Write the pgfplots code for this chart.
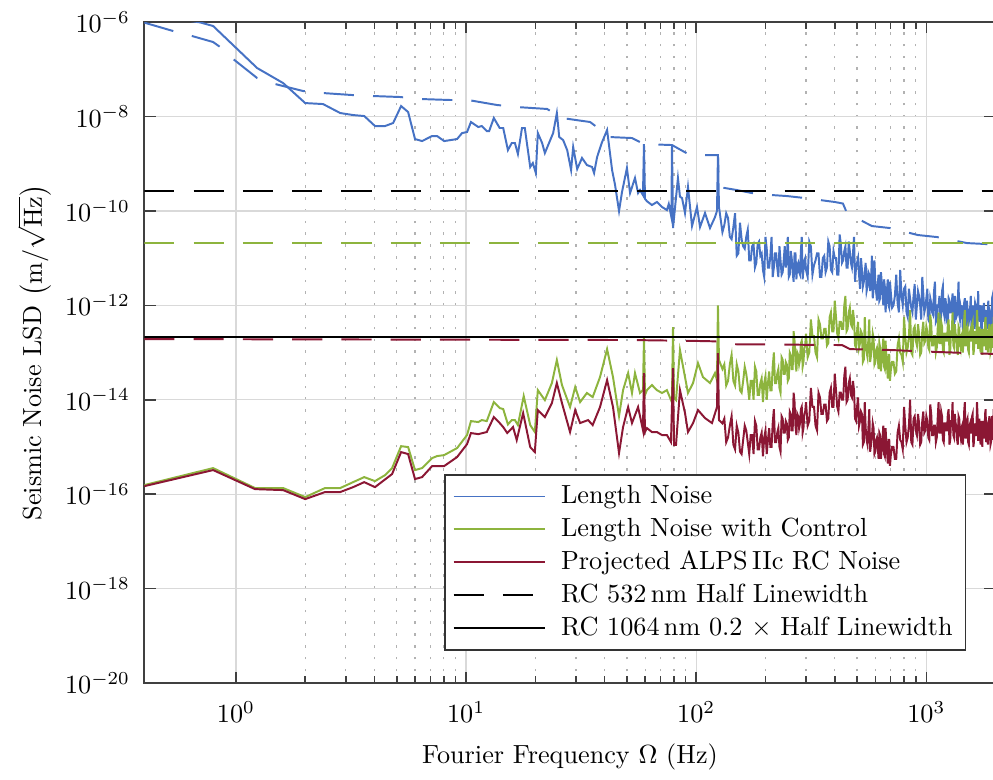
\documentclass[border=0pt]{standalone}
\usepackage{pgfplots}
\pgfplotsset{compat=1.18}
\definecolor{lnblue}{RGB}{70,114,196}
\definecolor{lngreen}{RGB}{141,180,62}
\definecolor{lnred}{RGB}{139,23,52}
\tikzset{mydash/.style={dash pattern=on 11.5pt off 7.3pt}}
\begin{document}
\begin{tikzpicture}
\begin{axis}[
  name=ax, scale only axis, width=324.9pt, height=252.3pt,
  xmode=log, ymode=log, xmin=0.4, xmax=2000, ymin=1e-20, ymax=1e-6,
  xtick={1,10,100,1000},
  ytick={1e-20,1e-18,1e-16,1e-14,1e-12,1e-10,1e-8,1e-6},
  minor y tick style={draw=none},
  xmajorgrids, xminorgrids, ymajorgrids,
  major grid style={gray!30, line width=0.5pt},
  minor grid style={gray!60, line width=0.5pt, dash pattern=on 1pt off 3.5pt},
  axis line style={black!75, line width=0.8pt},
  tick style={black!75, line width=0.6pt},
  xticklabel style={yshift=-3.5pt},
  yticklabel style={xshift=-2pt},
  xlabel={Fourier Frequency $\Omega$ (Hz)},
  ylabel={Seismic Noise LSD $\bigl(\mathrm{m}/\sqrt{\mathrm{Hz}}\bigr)$},
  xlabel shift=1pt,
  ylabel shift=-1.5pt,
  legend style={at={(0.352,0.316)}, anchor=north west, draw=black!80, line width=0.6pt, fill=white, cells={anchor=west}},
  legend image code/.code={\draw[#1] (0pt,0pt) -- (34.7pt,0pt); \path[draw=none] (0pt,0pt) -- (39pt,0pt);},
  every axis plot/.append style={line width=0.75pt},
]
% Length Noise
\addplot[lnblue] coordinates {
(0.4,1.5e-6)(0.699,9.8e-7)(0.796,8.23e-7)(1.236,1.06e-7)(1.603,5.10e-8)(2.0,1.92e-8)(2.39,1.83e-8)(2.84,1.18e-8)(3.23,1.07e-8)(3.61,1.02e-8)(4.02,6.27e-9)(4.45,6.27e-9)(4.82,7.26e-9)(5.22,1.66e-8)(5.60,1.24e-8)(6.00,3.32e-9)(6.44,3.01e-9)(7.12,3.85e-9)(7.48,3.85e-9)(8.03,3.01e-9)(9.14,3.32e-9)(9.61,4.45e-9)(10.1,4.68e-9)(10.5,7.62e-9)(11.3,5.97e-9)(11.7,6.27e-9)(12.3,4.91e-9)(12.6,4.91e-9)(13.2,9.26e-9)(14.0,5.69e-9)(14.5,5.69e-9)(15.2,1.94e-9)(15.8,2.74e-9)(16.3,2.74e-9)(16.8,1.60e-9)(17.5,5.69e-9)(18.0,5.69e-9)(19.0,8.49e-10)(19.5,1.03e-9)(20.1,6.33e-10)(20.5,4.45e-9)(21.4,2.74e-9)(22.0,1.68e-9)(23.9,4.45e-9)(24.8,1.18e-8)(25.4,3.66e-9)(26.4,3.17e-9)(27.5,1.94e-9)(28.6,7.33e-10)(29.2,2.25e-9)(30.4,7.70e-10)(31.9,1.32e-9)(33.5,9.35e-10)(35.3,8.49e-10)(36.0,6.33e-10)(37.1,1.38e-9)(39.0,2.87e-9)(41.0,5.16e-9)(43.1,7.33e-10)(44.4,3.53e-10)(46.2,9.92e-11)(47.6,2.51e-10)(50.0,8.08e-10)(51.6,2.39e-10)(54.2,4.96e-10)(55.9,2.39e-10)(57.0,2.76e-10)(58.7,2.16e-10)(59.3,2.60e-9)(59.9,1.8e-10)(61.1,1.60e-10)(64.2,1.33e-10)(67.5,1.54e-10)(71.0,1.21e-10)(74.6,1.04e-10)(76.0,1.4e-10)(78.0,7.4e-11)(78.5,2.5e-9)(79.3,4.33e-11)(83.3,4.96e-10)(85.0,2.0e-10)(86.8,1.87e-10)(89.4,9.0e-11)(92.1,3.20e-10)(95.9,4.77e-11)(100.8,1.21e-10)(103.9,4.55e-11)(109.2,9.0e-11)(114.8,4.33e-11)(120.7,7.4e-11)(123.1,1.0e-10)(124.3,1.52e-9)(125.6,1.2e-10)
(130,3.55e-11)(132.5,5.01e-11)(135,8.91e-11)(137.5,7.08e-11)(140,2.82e-11)(142.5,2.51e-11)(145,4.47e-11)(147.5,8.91e-11)(150,1.12e-11)(152.5,1.26e-11)(155,5.62e-11)(157.5,2.51e-11)(160,1.78e-11)(162.5,1.58e-11)(165,2.82e-11)(167.5,3.98e-11)(170,8.91e-12)(172.5,8.91e-12)(175,1.78e-11)(177.5,2.0e-11)(180,6.31e-12)(182.5,7.94e-12)(185,2.0e-11)(187.5,2.24e-11)(190,1.12e-11)(192.5,1.26e-11)(195,5.62e-12)(197.5,3.98e-12)(200,2.82e-11)(202.5,1.58e-11)(205,6.31e-12)(207.5,6.31e-12)(210,1.12e-11)(212.5,2.82e-11)(215,3.98e-12)(217.5,6.31e-12)(220,1.26e-11)(222.5,1.26e-11)(225,6.31e-12)(227.5,3.98e-12)(230,1.78e-11)(232.5,8.91e-12)(235,4.47e-12)(237.5,5.01e-12)(240,8.91e-12)(242.5,1.78e-11)(245,6.31e-12)(247.5,8.91e-12)(250,2.82e-11)(252.5,3.98e-12)(255,4.47e-12)(257.5,1.41e-11)(260,1.0e-11)(262.5,5.01e-12)(265,3.16e-12)(267.5,1.26e-11)(270,1.26e-11)(272.5,3.55e-12)(275,7.08e-12)(277.5,7.94e-12)(280,5.01e-12)(282.5,4.47e-12)(285,1.41e-11)(287.5,2.82e-11)(290,3.55e-12)(292.5,5.62e-12)(295,8.91e-12)(297.5,1.0e-11)(300,5.62e-12)(305,3.98e-12)
(310,2.24e-11)(315,1.78e-11)(320,4.47e-12)(325,7.08e-12)(330,8.91e-12)(335,1.26e-11)(340,1.26e-11)(345,3.98e-12)(350,3.98e-12)(355,1.0e-11)(360,1.12e-11)(365,5.01e-12)(370,6.31e-12)(375,2.24e-11)(380,1.78e-11)(385,5.62e-12)(390,5.01e-12)(395,1.41e-11)(400,1.0e-11)(405,1.0e-11)(410,4.47e-12)(415,4.47e-12)(420,3.16e-11)(425,2.0e-11)(430,7.94e-12)(435,8.91e-12)(440,1.41e-11)(445,1.78e-11)(450,6.31e-12)(455,6.31e-12)(460,2.24e-11)(465,1.41e-11)(470,7.94e-12)(475,6.31e-12)(480,1.26e-11)(485,2.82e-11)(490,3.16e-12)(495,6.31e-12)(500,7.94e-12)(505,1.0e-11)(510,4.47e-12)(515,2.24e-12)(520,1.0e-11)(525,5.62e-12)(530,2.51e-12)(535,3.16e-12)(540,5.01e-12)(545,7.94e-12)(550,2.0e-12)(555,2.51e-12)(560,5.01e-12)(565,4.47e-12)(570,2.0e-12)(575,3.16e-12)(580,1.12e-11)(585,1.41e-12)(590,2.24e-12)(595,8.91e-12)(600,3.16e-12)(605,2.0e-12)(610,1.26e-12)(615,2.82e-12)(620,4.47e-12)(625,1.26e-12)(630,1.41e-12)(635,5.01e-12)(640,3.16e-12)(645,2.0e-12)(650,1.0e-12)(655,3.55e-12)(660,2.51e-12)(665,7.08e-13)(670,1.41e-12)(675,2.24e-12)(680,3.55e-12)(685,1.0e-12)(690,8.91e-13)(695,3.16e-12)(700,2.0e-12)(710,8.91e-13)
(720,1.0e-12)(730,1.58e-12)(740,4.47e-12)(750,1.12e-12)(760,7.08e-13)(770,5.62e-12)(780,1.58e-12)(790,1.0e-12)(800,2.24e-12)(810,2.51e-12)(820,7.08e-13)(830,5.62e-13)(840,2.24e-12)(850,1.41e-12)(860,8.91e-13)(870,7.08e-13)(880,1.58e-12)(890,2.82e-12)(900,5.01e-13)(910,1.0e-12)(920,2.0e-12)(930,1.58e-12)(940,1.0e-12)(950,5.01e-13)(960,3.98e-12)(970,1.78e-12)(980,7.08e-13)(990,8.91e-13)(1000,1.41e-12)(1010,2.24e-12)(1020,5.01e-13)(1030,4.47e-13)(1040,1.41e-12)(1050,1.12e-12)(1060,7.08e-13)(1070,6.31e-13)(1080,2.0e-12)(1090,3.16e-12)(1100,4.47e-13)(1110,5.01e-13)(1120,1.0e-12)(1130,1.0e-12)(1140,1.58e-12)(1150,4.47e-13)(1160,6.31e-13)(1170,2.0e-12)(1180,2.51e-12)(1190,7.08e-13)(1200,5.62e-13)(1210,1.41e-12)(1220,1.0e-12)(1230,4.47e-13)(1240,3.98e-13)(1250,1.41e-12)(1260,1.26e-12)(1270,7.08e-13)(1280,7.08e-13)(1290,1.12e-12)(1300,1.78e-12)(1310,3.55e-13)(1320,4.47e-13)(1330,1.58e-12)(1340,1.12e-12)(1350,5.62e-13)(1360,6.31e-13)(1370,1.26e-12)(1380,3.16e-12)(1390,6.31e-13)(1400,5.01e-13)(1410,8.91e-13)(1420,7.08e-13)(1430,1.0e-12)(1440,3.16e-13)(1450,3.16e-13)(1460,1.12e-12)(1470,1.41e-12)(1480,4.47e-13)(1490,3.55e-13)(1500,1.26e-12)(1510,7.94e-13)(1520,3.55e-13)(1530,4.47e-13)(1540,7.94e-13)(1550,8.91e-13)(1560,1.58e-12)(1570,2.82e-13)(1580,3.98e-13)(1590,1.0e-12)(1600,7.08e-13)(1610,5.01e-13)(1620,3.16e-13)(1630,1.12e-12)(1640,1.0e-12)(1650,3.55e-13)(1660,5.01e-13)(1670,7.08e-13)(1680,2.0e-12)(1690,5.62e-13)(1700,4.47e-13)(1710,7.94e-13)(1720,1.0e-12)(1730,3.55e-13)(1740,2.51e-13)(1750,1.0e-12)(1760,7.08e-13)(1770,4.47e-13)(1780,1.12e-12)(1790,6.31e-13)(1800,3.55e-13)(1810,2.82e-13)(1820,7.94e-13)(1830,4.47e-13)(1840,3.16e-13)(1850,8.91e-13)(1860,1.26e-12)(1870,3.98e-13)(1880,4.47e-13)(1890,7.08e-13)(1900,6.31e-13)(1910,2.51e-13)(1920,2.82e-13)(1930,1.41e-12)(1940,1.58e-12)(1950,4.47e-13)(1960,3.98e-13)(1970,7.94e-13)(1980,8.91e-13)(1990,3.55e-13)(2000,5.01e-13)
};
\addlegendentry{Length Noise}
% Length Noise with Control
\addplot[lngreen] coordinates {
(0.4,1.56e-16)(0.796,3.57e-16)(1.21,1.35e-16)(1.603,1.35e-16)(2.0,8.68e-17)(2.44,1.35e-16)(2.84,1.35e-16)(3.23,1.80e-16)(3.61,2.30e-16)(4.02,1.89e-16)(4.45,2.54e-16)(4.77,3.57e-16)(5.22,1.04e-15)(5.60,9.95e-16)(6.00,3.24e-16)(6.44,3.57e-16)(7.12,5.82e-16)(7.48,6.41e-16)(8.03,6.73e-16)(9.14,9.47e-16)(10.1,1.79e-15)(10.5,3.53e-15)(11.3,3.37e-15)(11.7,3.71e-15)(12.3,3.53e-15)(13.2,8.93e-15)(14.0,6.67e-15)(14.5,6.35e-15)(15.2,3.0e-15)(15.8,3.71e-15)(16.3,3.71e-15)(16.8,2.91e-15)(17.8,1.2e-14)(19.0,2.91e-15)(19.9,2.07e-15)(20.5,1.60e-14)(22.0,9.8e-15)(23.6,2.26e-14)(24.8,6.93e-14)(26.1,2.05e-14)(28.3,7.0e-15)(29.8,1.86e-14)(31.3,8.93e-15)(33.5,1.39e-14)(35.5,1.14e-14)(38.2,3.02e-14)(41.0,1.18e-13)(43.5,3.02e-14)(46.2,4.5e-15)(48.1,1.60e-14)(50.6,3.67e-14)(52.6,1.39e-14)(54.2,3.67e-14)(57.0,1.39e-14)(58.7,1.6e-14)(59.3,2.03e-13)(59.9,1.25e-14)(61.1,1.6e-14)(64.2,2.05e-14)(67.5,1.6e-14)(71.0,1.39e-14)(74.6,1.6e-14)(77.7,9.84e-15)(78.5,1.14e-14)(79.3,3.46e-13)(80.1,1.09e-14)(81.7,9.84e-15)(85.0,1.13e-13)(89.4,3.02e-14)(92.1,1.39e-14)(96.9,2.26e-14)(101.8,5.98e-14)(107.0,3.02e-14)(114.8,2.26e-14)(120.7,3.67e-14)(123.1,2.6e-14)(124.3,1.0e-12)(125.6,6.93e-14)
(130,4.47e-14)(132.5,5.62e-14)(135,2.0e-14)(137.5,2.51e-14)(140,5.62e-14)(142.5,8.91e-14)(145,2.51e-14)(147.5,2.0e-14)(150,5.62e-14)(152.5,3.98e-14)(155,1.58e-14)(157.5,1.41e-14)(160,2.51e-14)(162.5,5.01e-14)(165,3.55e-14)(167.5,2.0e-14)(170,1.0e-14)(172.5,2.51e-14)(175,2.51e-14)(177.5,1.0e-14)(180,5.01e-14)(182.5,3.98e-14)(185,1.26e-14)(187.5,1.26e-14)(190,2.24e-14)(192.5,2.82e-14)(195,8.91e-15)(197.5,2.24e-14)(200,3.16e-14)(202.5,1.0e-14)(205,2.24e-14)(207.5,3.98e-14)(210,1.58e-14)(212.5,1.58e-14)(215,5.01e-14)(217.5,1.0e-13)(220,2.24e-14)(222.5,2.24e-14)(225,3.55e-14)(227.5,4.47e-14)(230,1.78e-14)(232.5,1.41e-14)(235,7.94e-14)(237.5,7.08e-14)(240,3.55e-14)(242.5,3.55e-14)(245,6.31e-14)(247.5,5.62e-14)(250,2.51e-14)(252.5,2.82e-14)(255,1.0e-13)(257.5,8.91e-14)(260,4.47e-14)(262.5,4.47e-14)(265,2.82e-13)(267.5,1.78e-13)(270,6.31e-14)(272.5,3.98e-14)(275,1.0e-13)(277.5,8.91e-14)(280,5.62e-14)(282.5,7.08e-14)(285,1.58e-13)(287.5,1.78e-13)(290,5.01e-14)(292.5,6.31e-14)(295,1.26e-13)(297.5,1.41e-13)(300,2.51e-13)(305,7.94e-14)
(310,1.0e-13)(315,5.01e-13)(320,2.24e-13)(325,2.24e-13)(330,1.0e-13)(335,7.94e-14)(340,5.01e-13)(345,3.98e-13)(350,2.0e-13)(355,2.0e-13)(360,3.16e-13)(365,3.16e-13)(370,1.41e-13)(375,1.58e-13)(380,5.62e-13)(385,7.08e-13)(390,2.82e-13)(395,2.82e-13)(400,1.26e-12)(405,5.62e-13)(410,2.51e-13)(415,2.0e-13)(420,4.47e-13)(425,4.47e-13)(430,3.16e-13)(435,3.16e-13)(440,1.0e-12)(445,1.58e-12)(450,2.82e-13)(455,3.16e-13)(460,7.08e-13)(465,8.91e-13)(470,3.98e-13)(475,3.55e-13)(480,7.94e-13)(485,5.01e-13)(490,1.41e-13)(495,1.26e-13)(500,2.82e-13)(505,4.47e-13)(510,1.26e-13)(515,1.58e-13)(520,2.82e-13)(525,2.51e-13)(530,6.31e-14)(535,7.08e-14)(540,5.62e-13)(545,1.58e-13)(550,1.0e-13)(555,7.94e-14)(560,2.0e-13)(565,5.01e-13)(570,6.31e-14)(575,8.91e-14)(580,1.26e-13)(585,2.51e-13)(590,2.0e-13)(595,5.62e-14)(600,6.31e-14)(605,1.12e-13)(610,1.26e-13)(615,7.94e-14)(620,4.47e-14)(625,1.58e-13)(630,1.26e-13)(635,3.98e-14)(640,7.08e-14)(645,1.12e-13)(650,2.0e-13)(655,5.01e-14)(660,4.47e-14)(665,1.78e-13)(670,7.94e-14)(675,5.01e-14)(680,2.82e-14)(685,8.91e-14)(690,8.91e-14)(695,2.51e-14)(700,3.98e-14)(710,6.31e-14)
(720,6.31e-14)(730,3.55e-14)(740,3.98e-14)(750,1.41e-13)(760,2.0e-13)(770,1.0e-13)(780,8.91e-14)(790,6.31e-14)(800,5.62e-13)(810,2.24e-13)(820,1.0e-13)(830,1.26e-13)(840,2.24e-13)(850,7.94e-13)(860,1.0e-13)(870,8.91e-14)(880,3.16e-13)(890,3.55e-13)(900,1.78e-13)(910,1.41e-13)(920,3.98e-13)(930,2.51e-13)(940,8.91e-14)(950,1.0e-13)(960,2.82e-13)(970,4.47e-13)(980,1.58e-13)(990,1.78e-13)(1000,3.55e-13)(1010,2.82e-13)(1020,1.26e-13)(1030,1.12e-13)(1040,6.31e-13)(1050,3.98e-13)(1060,1.41e-13)(1070,1.41e-13)(1080,2.24e-13)(1090,2.24e-13)(1100,1.0e-13)(1110,1.26e-13)(1120,3.16e-13)(1130,7.08e-13)(1140,1.58e-13)(1150,1.58e-13)(1160,4.47e-13)(1170,3.55e-13)(1180,1.12e-13)(1190,1.0e-13)(1200,2.51e-13)(1210,2.51e-13)(1220,1.78e-13)(1230,1.78e-13)(1240,3.98e-13)(1250,5.01e-13)(1260,8.91e-14)(1270,1.12e-13)(1280,2.82e-13)(1290,2.82e-13)(1300,7.08e-13)(1310,1.41e-13)(1320,1.26e-13)(1330,3.98e-13)(1340,2.51e-13)(1350,2.24e-13)(1360,1.12e-13)(1370,8.91e-14)(1380,3.55e-13)(1390,3.16e-13)(1400,1.58e-13)(1410,1.26e-13)(1420,2.24e-13)(1430,2.51e-13)(1440,1.0e-13)(1450,1.58e-13)(1460,5.01e-13)(1470,7.94e-13)(1480,1.41e-13)(1490,1.41e-13)(1500,3.16e-13)(1510,3.55e-13)(1520,1.12e-13)(1530,1.0e-13)(1540,2.51e-13)(1550,2.82e-13)(1560,1.78e-13)(1570,1.78e-13)(1580,3.98e-13)(1590,4.47e-13)(1600,8.91e-14)(1610,1.12e-13)(1620,2.82e-13)(1630,2.24e-13)(1640,1.58e-13)(1650,1.58e-13)(1660,7.94e-13)(1670,3.98e-13)(1680,1.26e-13)(1690,1.26e-13)(1700,3.55e-13)(1710,2.0e-13)(1720,1.0e-13)(1730,3.16e-13)(1740,2.24e-13)(1750,8.91e-14)(1760,3.16e-13)(1770,2.51e-13)(1780,1.41e-13)(1790,1.41e-13)(1800,4.47e-13)(1810,5.62e-13)(1820,1.12e-13)(1830,2.82e-13)(1840,2.51e-13)(1850,1.0e-13)(1860,1.78e-13)(1870,3.16e-13)(1880,3.98e-13)(1890,2.0e-13)(1900,1.0e-13)(1910,1.12e-13)(1920,2.82e-13)(1930,3.98e-13)(1940,1.26e-13)(1950,1.58e-13)(1960,5.62e-13)(1970,3.55e-13)(1980,1.58e-13)(1990,1.26e-13)(2000,3.16e-13)
};
\addlegendentry{Length Noise with Control}
% Projected ALPS IIc RC Noise
\addplot[lnred] coordinates {
(0.4,1.48e-16)(0.796,3.24e-16)(1.21,1.28e-16)(1.603,1.22e-16)(2.0,7.87e-17)(2.44,1.11e-16)(2.84,1.11e-16)(3.23,1.41e-16)(3.61,1.80e-16)(4.02,1.41e-16)(4.77,2.67e-16)(5.22,7.79e-16)(5.60,7.07e-16)(6.00,2.09e-16)(6.44,2.30e-16)(7.12,3.94e-16)(8.03,3.94e-16)(9.14,6.11e-16)(10.1,1.15e-15)(10.5,1.97e-15)(11.3,1.87e-15)(12.3,2.07e-15)(13.2,4.30e-15)(14.0,3.21e-15)(14.5,2.64e-15)(15.1,1.97e-15)(16.0,2.64e-15)(16.6,1.40e-15)(17.7,5.22e-15)(19.0,9.95e-16)(19.9,7.79e-16)(20.5,6.05e-15)(22.0,4.30e-15)(23.6,8.51e-15)(24.8,2.26e-14)(26.1,8.51e-15)(28.3,2.07e-15)(29.8,6.05e-15)(31.3,3.21e-15)(33.9,3.71e-15)(35.5,2.91e-15)(38.2,7.0e-15)(41.0,2.61e-14)(43.5,7.0e-15)(46.2,7.42e-16)(48.1,2.64e-15)(50.6,7.0e-15)(52.6,3.21e-15)(55.9,7.0e-15)(58.7,2.28e-15)(59.3,3.67e-14)(59.9,2.07e-15)(61.1,2.51e-15)(64.2,2.07e-15)(67.5,2.07e-15)(71.0,1.79e-15)(74.6,1.79e-15)(77.7,1.27e-15)(79.3,4.69e-14)(80.1,1.10e-15)(81.7,1.10e-15)(85.0,1.60e-14)(89.4,5.22e-15)(92.1,2.07e-15)(96.9,3.21e-15)(101.8,6.05e-15)(109.2,4.09e-15)(117.1,3.21e-15)(123.1,7.0e-15)(124.3,9.74e-14)(125.6,3.7e-15)
(130,3.16e-15)(132.5,3.98e-15)(135,1.26e-15)(137.5,1.58e-15)(140,2.82e-15)(142.5,4.47e-15)(145,1.12e-15)(147.5,8.91e-16)(150,2.82e-15)(152.5,2.0e-15)(155,7.94e-16)(157.5,7.08e-16)(160,1.41e-15)(162.5,2.82e-15)(165,2.24e-15)(167.5,1.26e-15)(170,7.08e-16)(172.5,1.78e-15)(175,1.78e-15)(177.5,7.08e-16)(180,3.55e-15)(182.5,2.82e-15)(185,8.91e-16)(187.5,8.91e-16)(190,1.58e-15)(192.5,2.0e-15)(195,6.31e-16)(197.5,1.58e-15)(200,2.24e-15)(202.5,7.08e-16)(205,1.41e-15)(207.5,2.51e-15)(210,1.0e-15)(212.5,1.0e-15)(215,3.16e-15)(217.5,6.31e-15)(220,1.26e-15)(222.5,1.26e-15)(225,2.0e-15)(227.5,2.51e-15)(230,1.0e-15)(232.5,7.94e-16)(235,4.47e-15)(237.5,3.98e-15)(240,2.0e-15)(242.5,2.0e-15)(245,3.55e-15)(247.5,3.16e-15)(250,1.41e-15)(252.5,1.58e-15)(255,5.62e-15)(257.5,5.01e-15)(260,2.24e-15)(262.5,2.24e-15)(265,1.41e-14)(267.5,8.91e-15)(270,2.82e-15)(272.5,1.78e-15)(275,5.01e-15)(277.5,4.47e-15)(280,2.51e-15)(282.5,3.16e-15)(285,6.31e-15)(287.5,7.08e-15)(290,2.0e-15)(292.5,2.51e-15)(295,5.01e-15)(297.5,5.62e-15)(300,8.91e-15)(305,2.82e-15)
(310,3.55e-15)(315,1.78e-14)(320,7.08e-15)(325,7.08e-15)(330,2.82e-15)(335,2.24e-15)(340,1.41e-14)(345,1.12e-14)(350,5.01e-15)(355,5.01e-15)(360,7.94e-15)(365,7.94e-15)(370,3.55e-15)(375,3.98e-15)(380,1.41e-14)(385,1.78e-14)(390,7.08e-15)(395,7.08e-15)(400,3.55e-14)(405,1.58e-14)(410,7.08e-15)(415,5.62e-15)(420,1.41e-14)(425,1.41e-14)(430,1.0e-14)(435,1.0e-14)(440,3.16e-14)(445,5.01e-14)(450,8.91e-15)(455,1.0e-14)(460,2.24e-14)(465,2.82e-14)(470,1.26e-14)(475,1.12e-14)(480,2.51e-14)(485,1.58e-14)(490,3.98e-15)(495,3.55e-15)(500,7.08e-15)(505,1.12e-14)(510,2.82e-15)(515,3.55e-15)(520,5.62e-15)(525,5.01e-15)(530,1.12e-15)(535,1.26e-15)(540,8.91e-15)(545,2.51e-15)(550,1.41e-15)(555,1.12e-15)(560,2.51e-15)(565,6.31e-15)(570,7.94e-16)(575,1.12e-15)(580,1.58e-15)(585,3.16e-15)(590,2.51e-15)(595,7.08e-16)(600,7.94e-16)(605,1.41e-15)(610,1.58e-15)(615,1.0e-15)(620,5.62e-16)(625,2.0e-15)(630,1.78e-15)(635,5.62e-16)(640,8.91e-16)(645,1.41e-15)(650,2.82e-15)(655,7.08e-16)(660,6.31e-16)(665,2.51e-15)(670,1.26e-15)(675,7.94e-16)(680,4.47e-16)(685,1.41e-15)(690,1.41e-15)(695,3.98e-16)(700,6.31e-16)(710,1.0e-15)
(720,1.0e-15)(730,5.62e-16)(740,5.62e-16)(750,2.0e-15)(760,2.82e-15)(770,1.41e-15)(780,1.26e-15)(790,8.91e-16)(800,7.08e-15)(810,2.82e-15)(820,1.26e-15)(830,1.58e-15)(840,2.82e-15)(850,1.0e-14)(860,1.26e-15)(870,1.12e-15)(880,3.98e-15)(890,4.47e-15)(900,2.24e-15)(910,1.78e-15)(920,5.01e-15)(930,3.16e-15)(940,1.12e-15)(950,1.26e-15)(960,3.55e-15)(970,5.62e-15)(980,2.0e-15)(990,2.24e-15)(1000,4.47e-15)(1010,3.55e-15)(1020,1.58e-15)(1030,1.41e-15)(1040,7.94e-15)(1050,5.01e-15)(1060,1.78e-15)(1070,1.78e-15)(1080,2.82e-15)(1090,2.82e-15)(1100,1.26e-15)(1110,1.58e-15)(1120,3.98e-15)(1130,8.91e-15)(1140,2.0e-15)(1150,2.0e-15)(1160,5.62e-15)(1170,4.47e-15)(1180,1.41e-15)(1190,1.26e-15)(1200,3.16e-15)(1210,3.16e-15)(1220,2.24e-15)(1230,2.24e-15)(1240,5.01e-15)(1250,6.31e-15)(1260,1.12e-15)(1270,1.41e-15)(1280,3.55e-15)(1290,3.55e-15)(1300,8.91e-15)(1310,1.78e-15)(1320,1.58e-15)(1330,5.01e-15)(1340,3.16e-15)(1350,2.82e-15)(1360,1.41e-15)(1370,1.12e-15)(1380,4.47e-15)(1390,3.98e-15)(1400,2.0e-15)(1410,1.58e-15)(1420,2.51e-15)(1430,2.82e-15)(1440,1.12e-15)(1450,1.78e-15)(1460,5.62e-15)(1470,8.91e-15)(1480,1.58e-15)(1490,1.58e-15)(1500,3.55e-15)(1510,3.98e-15)(1520,1.26e-15)(1530,1.12e-15)(1540,2.82e-15)(1550,3.16e-15)(1560,2.0e-15)(1570,2.0e-15)(1580,4.47e-15)(1590,5.01e-15)(1600,1.0e-15)(1610,1.26e-15)(1620,3.16e-15)(1630,2.51e-15)(1640,1.78e-15)(1650,1.78e-15)(1660,8.91e-15)(1670,4.47e-15)(1680,1.41e-15)(1690,1.41e-15)(1700,3.98e-15)(1710,2.24e-15)(1720,1.12e-15)(1730,3.55e-15)(1740,2.51e-15)(1750,1.0e-15)(1760,3.55e-15)(1770,2.82e-15)(1780,1.58e-15)(1790,1.58e-15)(1800,5.01e-15)(1810,6.31e-15)(1820,1.26e-15)(1830,3.16e-15)(1840,2.82e-15)(1850,1.12e-15)(1860,2.0e-15)(1870,3.55e-15)(1880,4.47e-15)(1890,2.24e-15)(1900,1.12e-15)(1910,1.26e-15)(1920,3.16e-15)(1930,4.47e-15)(1940,1.41e-15)(1950,1.78e-15)(1960,6.31e-15)(1970,3.98e-15)(1980,1.78e-15)(1990,1.41e-15)(2000,3.55e-15)
};
\addlegendentry{Projected ALPS\,IIc RC Noise}
% upper dashed blue envelope
\addplot[lnblue, mydash, forget plot] coordinates {
(0.4,9.7e-7)(0.533,6.45e-7)(0.645,5.05e-7)(0.796,3.77e-7)(0.854,2.95e-7)(0.972,1.65e-7)(1.236,6.51e-8)(1.48,4.86e-8)(1.96,3.45e-8)(2.39,3.13e-8)(3.20,2.84e-8)(3.91,2.71e-8)(5.17,2.58e-8)(6.31,2.34e-8)(8.52,2.23e-8)(10.2,2.23e-8)(13.6,1.75e-8)(16.7,1.58e-8)(22.5,1.44e-8)(26.1,9.26e-9)(34.6,7.62e-9)(42.2,3.66e-9)(52.6,3.49e-9)(59.3,2.60e-9)(78.5,2.48e-9)(94.0,1.52e-9)(124.3,1.52e-9)(125.6,3.20e-10)(150.4,2.76e-10)(183.7,2.27e-10)(248,2.06e-10)(297,1.87e-10)(401,1.54e-10)(434,1.43e-10)(452,9.0e-11)(580,4.77e-11)(695,4.33e-11)(919,3.08e-11)(1112,2.79e-11)(1501,2.08e-11)(1834,1.98e-11)(2000,1.9e-11)
};
% RC 532 nm half linewidth
\addplot[black, mydash] coordinates {(0.4,2.6e-10)(2000,2.6e-10)};
\addlegendentry{RC 532\,nm Half Linewidth}
% RC 1064 nm 0.2 x half linewidth
\addplot[black] coordinates {(0.4,2.1e-13)(2000,2.1e-13)};
\addlegendentry{RC 1064\,nm 0.2 $\times$ Half Linewidth}
% green dashed level
\addplot[lngreen, mydash, forget plot] coordinates {(0.4,2.05e-11)(2000,2.05e-11)};
% red dashed level
\addplot[lnred, mydash, forget plot] coordinates {(0.4,1.93e-13)(52,1.84e-13)(100,1.76e-13)(125,1.72e-13)(140,1.50e-13)(430,1.44e-13)(466,1.18e-13)(700,1.13e-13)(1100,1.03e-13)(2000,9.3e-14)};
\end{axis}
\pgfresetboundingbox
\path ([xshift=-55.1pt,yshift=-37pt]ax.south west) rectangle ([xshift=-1pt,yshift=8.4pt]ax.north east);
\end{tikzpicture}
\end{document}
